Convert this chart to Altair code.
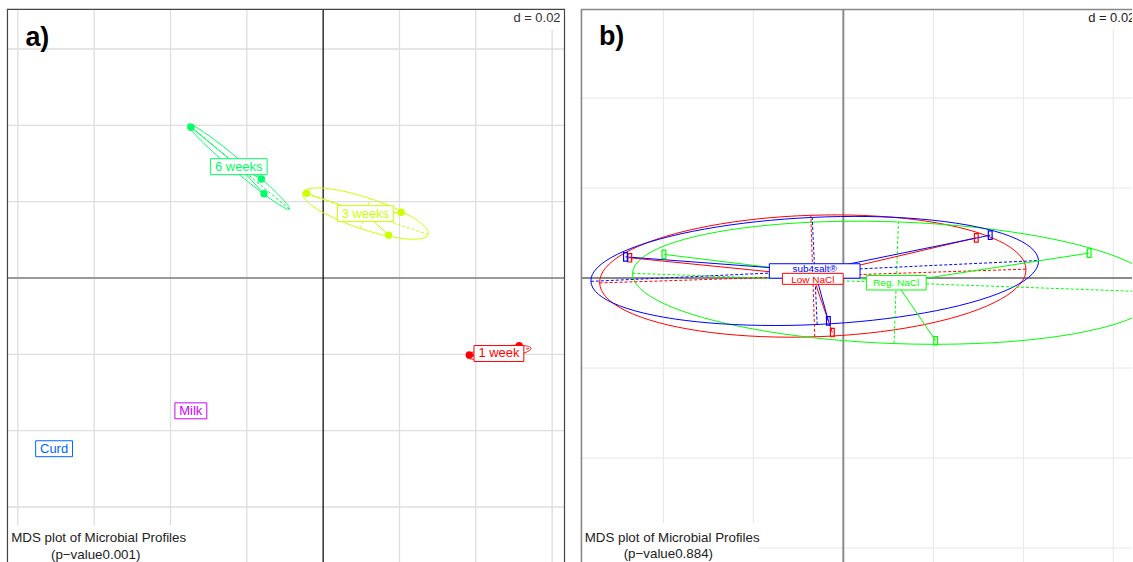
import numpy as np
import pandas as pd
import altair as alt

FONT = "Liberation Sans"
D = 0.02  # grid step ("d = 0.02")

# ---- a) microbial profiles by ripening stage (MDS coordinates) ----
a_group = ["1 week", "1 week", "1 week",
           "3 weeks", "3 weeks", "3 weeks",
           "6 weeks", "6 weeks", "6 weeks",
           "Curd", "Milk"]
a_x = [0.03830, 0.05136, 0.04849,
       -0.00433, 0.02042, 0.01715,
       -0.03465, -0.01619, -0.01551,
       -0.07050, -0.03467]
a_y = [-0.02018, -0.01775, -0.02063,
       0.02219, 0.01723, 0.01123,
       0.03950, 0.02593, 0.02211,
       -0.04473, -0.03480]
a_levels = ["1 week", "3 weeks", "6 weeks", "Curd", "Milk"]
a_colors = ["#FF0000", "#CCFF00", "#00FF66", "#0066FF", "#CC00FF"]
a_pvalue = "0.001"

# ---- b) microbial profiles by salt treatment ----
b_group = ["Low NaCl", "Low NaCl", "Low NaCl",
           "Reg. NaCl", "Reg. NaCl", "Reg. NaCl",
           "sub4salt®", "sub4salt®", "sub4salt®"]
b_x = [-0.04746, 0.02955, -0.00244,
       -0.03987, 0.05464, 0.02053,
       -0.04842, 0.03265, -0.00332]
b_y = [0.00450, 0.00893, -0.01212,
       0.00525, 0.00554, -0.01395,
       0.00470, 0.00952, -0.00952]
b_levels = ["Low NaCl", "Reg. NaCl", "sub4salt®"]
b_colors = ["#FF0000", "#00FF00", "#0000FF"]
b_pvalue = "0.884"


def class_parts(df, coeff=1.5, n=100):
    """Group centroids, star segments, inertia ellipses and their axes (ade4 s.class style)."""
    cent = df.groupby("g", sort=False)[["x", "y"]].mean().reset_index()
    star = df.merge(cent, on="g", suffixes=("", "_c"))
    rings, axes = [], []
    for g, s in df.groupby("g", sort=False):
        if len(s) < 2:
            continue
        mx, my = s.x.mean(), s.y.mean()
        vx = ((s.x - mx) ** 2).mean()
        vy = ((s.y - my) ** 2).mean()
        cxy = ((s.x - mx) * (s.y - my)).mean()
        delta = np.sqrt((vx - vy) ** 2 + 4 * cxy ** 2)
        l1 = (vx + vy + delta) / 2
        l2 = max(vx + vy - l1, 0.0)
        a0, b0 = 1.0, (l1 - vx) / cxy
        nrm = np.hypot(a0, b0)
        a0, b0 = a0 / nrm, b0 / nrm
        l1, l2 = np.sqrt(l1), np.sqrt(l2)
        c11, c12 = coeff * a0 * l1, -coeff * b0 * l2
        c21, c22 = coeff * b0 * l1, coeff * a0 * l2
        t = np.linspace(0, 2 * np.pi, n + 1)
        rings.append(pd.DataFrame({
            "g": g, "i": np.arange(n + 1),
            "x": mx + c11 * np.cos(t) + c12 * np.sin(t),
            "y": my + c21 * np.cos(t) + c22 * np.sin(t)}))
        axes.append({"g": g, "x": mx - c11, "y": my - c21, "x2": mx + c11, "y2": my + c21})
        axes.append({"g": g, "x": mx - c12, "y": my - c22, "x2": mx + c12, "y2": my + c22})
    return cent, star, pd.concat(rings, ignore_index=True), pd.DataFrame(axes)


def one(**kw):
    return alt.Chart(pd.DataFrame([kw]))


def panel(groups, xs_, ys_, levels, colors, st):
    W, H, ppu, ox, oy = st["W"], st["H"], st["ppu"], st["ox"], st["oy"]
    xdom = [(0 - ox) / ppu, (W - ox) / ppu]
    ydom = [(oy - H) / ppu, oy / ppu]
    xsc = alt.Scale(domain=xdom, nice=False, zero=False)
    ysc = alt.Scale(domain=ydom, nice=False, zero=False)

    def X(f):
        return alt.X(f, type="quantitative", scale=xsc, axis=None)

    def Y(f):
        return alt.Y(f, type="quantitative", scale=ysc, axis=None)

    col = alt.Color("g:N", scale=alt.Scale(domain=levels, range=colors), legend=None)
    cmap = dict(zip(levels, colors))

    df = pd.DataFrame({"g": groups, "x": xs_, "y": ys_})
    cent, star, ring, axes = class_parts(df)

    gx = [k * D for k in range(int(np.ceil(xdom[0] / D)), int(np.floor(xdom[1] / D)) + 1) if k != 0]
    gy = [k * D for k in range(int(np.ceil(ydom[0] / D)), int(np.floor(ydom[1] / D)) + 1) if k != 0]

    layers = [
        alt.Chart(pd.DataFrame({"v": gx})).mark_rule(color=st["grid"], strokeWidth=st["grid_w"]).encode(x=X("v")),
        alt.Chart(pd.DataFrame({"v": gy})).mark_rule(color=st["grid"], strokeWidth=st["grid_w"]).encode(y=Y("v")),
        alt.Chart(pd.DataFrame({"v": [0.0]})).mark_rule(color=st["hax"], strokeWidth=st["hax_w"]).encode(y=Y("v")),
        alt.Chart(pd.DataFrame({"v": [0.0]})).mark_rule(color=st["vax"], strokeWidth=st["vax_w"]).encode(x=X("v")),
        # "d = 0.02" box
        one(a=0).mark_rect(fill="white").encode(
            x=alt.value(st["dbox"][0]), x2=alt.value(st["dbox"][1]),
            y=alt.value(st["dbox"][2]), y2=alt.value(st["dbox"][3])),
        one(t="d = 0.02").mark_text(font=FONT, fontSize=13, color=st["dcol"], align=st["dalign"],
                                    baseline="middle", clip=True).encode(
            x=alt.value(st["dpos"][0]), y=alt.value(st["dpos"][1]), text="t:N"),
        # inertia ellipses and their axes
        alt.Chart(ring).mark_line(strokeWidth=1, clip=True).encode(
            x=X("x"), y=Y("y"), order="i:Q", detail="g:N", color=col),
        alt.Chart(axes).mark_rule(strokeWidth=1, strokeDash=[3, 2], clip=True).encode(
            x=X("x"), y=Y("y"), x2="x2", y2="y2", color=col),
        # stars: centroid to each sample
        alt.Chart(star).mark_rule(strokeWidth=1, clip=True).encode(
            x=X("x_c"), y=Y("y_c"), x2="x", y2="y", color=col),
    ]
    if st["pt"] == "dot":
        layers.append(alt.Chart(df).mark_circle(size=55, opacity=1).encode(x=X("x"), y=Y("y"), color=col))
    else:
        layers.append(alt.Chart(df).mark_point(shape="M-0.45,-1H0.45V1H-0.45Z", size=72, filled=False,
                                               strokeWidth=1.2, opacity=1).encode(
            x=X("x"), y=Y("y"), color=col))

    # group labels in boxes at the centroids
    for g in st["label_order"]:
        w, h = st["box_w"][g], st["box_h"].get(g, st["box_h"]["*"])
        dy = st["lab_dy"].get(g, 0)
        tdy = st["txt_dy"].get(g, 0)
        d = cent[cent.g == g]
        layers.append(alt.Chart(d).mark_rect(
            fill="white", stroke=cmap[g], strokeWidth=1,
            xOffset=-w / 2, x2Offset=w / 2, yOffset=dy - h / 2, y2Offset=dy + h / 2).encode(
            x=X("x"), x2="x", y=Y("y"), y2="y"))
        layers.append(alt.Chart(d).mark_text(
            font=FONT, fontSize=st["fs"], color=cmap[g], align="center", baseline="middle",
            dy=tdy).encode(
            x=X("x"), y=Y("y"), text="g:N"))

    # sub-title with white backing
    tb = st["tbox"]
    layers += [
        one(a=0).mark_rect(fill="white").encode(
            x=alt.value(tb[0]), x2=alt.value(tb[1]), y=alt.value(tb[2]), y2=alt.value(tb[3])),
        one(t="MDS plot of Microbial Profiles").mark_text(
            font=FONT, fontSize=13.4, color="#222222", align="center", baseline="middle").encode(
            x=alt.value(st["t1"][0]), y=alt.value(st["t1"][1]), text="t:N"),
        one(t="(p\u2212value" + st["p"] + ")").mark_text(
            font=FONT, fontSize=13.4, color="#222222", align="center", baseline="middle").encode(
            x=alt.value(st["t2"][0]), y=alt.value(st["t2"][1]), text="t:N"),
        one(t=st["tag"]).mark_text(
            font=FONT, fontSize=27, fontWeight="bold", color="black", align="left",
            baseline="alphabetic").encode(
            x=alt.value(st["tagpos"][0]), y=alt.value(st["tagpos"][1]), text="t:N"),
    ]

    # frame
    fc, fw = st["frame"], st["frame_w"]
    layers.append(one(a=0).mark_rule(color=fc, strokeWidth=fw).encode(
        x=alt.value(0.5), y=alt.value(0), y2=alt.value(H)))
    layers.append(one(a=0).mark_rule(color=fc, strokeWidth=fw).encode(
        x=alt.value(0), x2=alt.value(W), y=alt.value(0.5)))
    if st["right_edge"]:
        layers.append(one(a=0).mark_rule(color=fc, strokeWidth=fw).encode(
            x=alt.value(W - 0.5), y=alt.value(0), y2=alt.value(H)))

    return alt.layer(*layers).properties(width=W, height=H)


A_STYLE = dict(
    W=560, H=555, ppu=3830, ox=317.3, oy=270,
    grid="#dedede", grid_w=1.3, hax="#9a9a9a", hax_w=2, vax="#111111", vax_w=1.3,
    frame="#444444", frame_w=1.2, right_edge=True,
    dbox=(500, 559, 1, 21), dpos=(555.5, 9), dalign="right", dcol="#333333",
    pt="dot", fs=13, box_h={"*": 16},
    box_w={"1 week": 50, "3 weeks": 56, "6 weeks": 57, "Curd": 37, "Milk": 32},
    lab_dy={"1 week": 1}, txt_dy={"1 week": 1},
    label_order=["1 week", "3 weeks", "6 weeks", "Curd", "Milk"],
    tbox=(1, 182, 518, 555), t1=(92, 531.3), t2=(89, 548), p=a_pvalue,
    tag="a)", tagpos=(18.5, 37),
)

B_STYLE = dict(
    W=553, H=555, ppu=4515, ox=263.3, oy=270,
    grid="#e6e6e6", grid_w=1, hax="#8a8a8a", hax_w=2, vax="#8a8a8a", vax_w=2,
    frame="#888888", frame_w=1.6, right_edge=False,
    dbox=(503, 553, 1, 20), dpos=(509, 9), dalign="left", dcol="#222222",
    pt="rect", fs=10, box_h={"*": 14.5, "Low NaCl": 11},
    box_w={"Low NaCl": 61, "Reg. NaCl": 60, "sub4salt®": 91},
    lab_dy={"Low NaCl": 2.8}, txt_dy={"sub4salt®": -2, "Low NaCl": 3.5},
    label_order=["sub4salt®", "Low NaCl", "Reg. NaCl"],
    tbox=(1, 178, 516, 555), t1=(91.5, 530.7), t2=(87.7, 547.3), p=b_pvalue,
    tag="b)", tagpos=(18, 36.3),
)

left = panel(a_group, a_x, a_y, a_levels, a_colors, A_STYLE)
right = panel(b_group, b_x, b_y, b_levels, b_colors, B_STYLE)

chart = (
    alt.hconcat(left, right, spacing=14)
    .resolve_scale(color="independent")
    .properties(padding={"left": 6, "top": 7, "right": 0, "bottom": 0})
    .configure(background="white")
    .configure_view(stroke=None)
)

chart.save("out.html", embed_options={"renderer": "svg", "actions": False})
